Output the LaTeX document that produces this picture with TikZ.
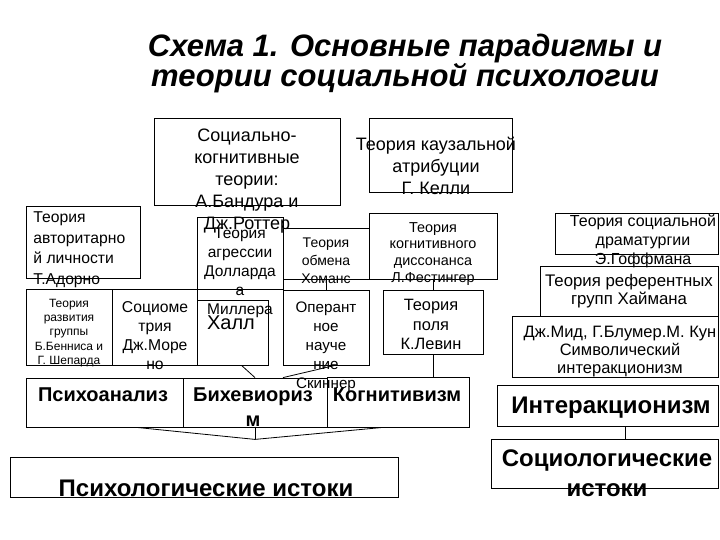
\documentclass[tikz,border=0pt]{standalone}
\usepackage{fontspec}
\setmainfont{Liberation Sans}
\usetikzlibrary{fit, calc}

\tikzset{
  frame/.style={draw, line width=0.8pt, inner sep=0pt},
  txt/.style={align=center, inner sep=0pt, anchor=north},
}
\newcommand{\fsz}[2]{\fontsize{#1}{#2}\selectfont}

\begin{document}
\begin{tikzpicture}[x=1pt, y=-1pt, line width=0.8pt]
        \fill[white] (0,0) rectangle (720,540);
        \useasboundingbox (0,0) rectangle (720,540);

        % заголовок
        \node[txt, font=\fsz{31}{30}\bfseries\itshape] (title) at (405,34)
            {Схема 1. Основные парадигмы и\\теории социальной психологии};

        % верхние теории
        \node[frame, fit={(154,118) (340,205)}] (sockbox) {};
        \node[txt, font=\fsz{18}{22}] (socktxt) at (247,128.5)
            {Социально-\\когнитивные\\теории:\\А.Бандура и\\Дж.Роттер};
        \node[frame, fit={(369,118) (512,192)}] (kellybox) {};
        \node[txt, font=\fsz{18}{22}] (kellytxt) at (436,136.5)
            {Теория каузальной\\атрибуции\\Г. Келли};
        \node[frame, fit={(26,206) (140,278)}] (adornobox) {};
        \node[txt, align=left, anchor=north west, font=\fsz{15.7}{20.5}] (adornotxt) at (33,211.3)
            {Теория\\авторитарно\\й личности\\Т.Адорно};
        \node[frame, fit={(197,217) (283,289)}] (aggrbox) {};
        \node[txt, font=\fsz{15.5}{19}] (aggrtxt) at (240,227.4)
            {Теория\\агрессии\\Долларда\\а\\Миллера};
        \node[frame, fit={(283,228) (369,279)}] (exchbox) {};
        \node[txt, font=\fsz{14}{18}] (exchtxt) at (326,237)
            {Теория\\обмена\\Хоманс};
        \node[frame, fit={(369,213) (497,279)}] (festbox) {};
        \node[txt, font=\fsz{14.4}{16.7}] (festtxt) at (433,221.8)
            {Теория\\когнитивного\\диссонанса\\Л.Фестингер};

        % нижний ряд теорий
        \node[frame, fit={(26,289) (112,365)}] (devbox) {};
        \node[txt, font=\fsz{12}{14.3}] (devtxt) at (69,298.7)
            {Теория\\развития\\группы\\Б.Бенниса и\\Г. Шепарда};
        \node[frame, fit={(112,289) (197,365)}] (sociombox) {};
        \node[txt, font=\fsz{15.7}{19}] (sociomtxt) at (155,301.3)
            {Социоме\\трия\\Дж.Море\\но};
        \node[frame, fit={(197,300) (268,365)}] (hallbox) {};
        \node[txt, font=\fsz{20}{22}] (halltxt) at (231,315) {Халл};
        \node[frame, fit={(283,290) (369,365)}] (opbox) {};
        \node[txt, font=\fsz{15.2}{19}] (optxt) at (326,301.5)
            {Оперант\\ное\\науче\\ние\\Скиннер};
        \node[frame, fit={(383,290) (483,354)}] (levbox) {};
        \node[txt, font=\fsz{16.4}{19.5}] (levtxt) at (431,299)
            {Теория\\поля\\К.Левин};

        % парадигмы
        \node[frame, fit={(26,378) (183,427)}] (psybox) {};
        \node[txt, font=\fsz{20}{25}\bfseries] (psytxt) at (103,387.8) {Психоанализ};
        \node[frame, fit={(183,378) (327,427)}] (behbox) {};
        \node[txt, font=\fsz{20}{25}\bfseries] (behtxt) at (253,387.8) {Бихевиориз\\м};
        \node[frame, fit={(327,377) (469,427)}] (cogbox) {};
        \node[txt, font=\fsz{20}{25}\bfseries] (cogtxt) at (397,387.8) {Когнитивизм};
        \node[frame, fit={(10,457) (398,497)}] (psysrcbox) {};
        \node[txt, font=\fsz{24}{26}\bfseries] (psysrctxt) at (206,479.4) {Психологические истоки};

        % интеракционизм
        \node[frame, fit={(555,213) (718,254)}] (goffbox) {};
        \node[txt, font=\fsz{16}{19}] (gofftxt) at (643,214.2)
            {Теория социальной\\драматургии\\Э.Гоффмана};
        \node[frame, fit={(540,266) (718,316)}] (haymbox) {};
        \node[txt, font=\fsz{16.8}{18}] (haymtxt) at (629,274)
            {Теория референтных\\групп Хаймана};
        \node[frame, fit={(512,316) (718,377)}] (meadbox) {};
        \node[txt, font=\fsz{16.5}{18}] (meadtxt) at (620,326)
            {Дж.Мид, Г.Блумер.М. Кун\\Символический\\интеракционизм};
        \node[frame, fit={(497,385) (718,426)}] (intbox) {};
        \node[txt, font=\fsz{24}{26}\bfseries] (inttxt) at (611,396.4) {Интеракционизм};
        \node[frame, fit={(491,439) (718,488)}] (socsrcbox) {};
        \node[txt, font=\fsz{24}{30}\bfseries] (socsrctxt) at (607,449.4)
            {Социологические\\истоки};

        % связи
        \draw (opbox.north) -- (opbox.north |- exchbox.south);
        \draw (levbox.north) -- (levbox.north |- festbox.south);
        \draw ([xshift=9pt]hallbox.south) -- (behbox.north);
        \draw ([xshift=28pt]behbox.north) -- ([xshift=9pt]opbox.south);
        \draw (levbox.south) -- (levbox.south |- cogbox.north);
        \coordinate (brace) at ($(behbox.south)+(0,12)$);
        \draw ([xshift=32pt]psybox.south) -- (brace) -- ([xshift=-15pt]cogbox.south);
        \draw (behbox.south) -- (brace);
        \draw ([xshift=18pt]intbox.south) -- ([xshift=18pt]intbox.south |- socsrcbox.north);

    \end{tikzpicture}
\end{document}
